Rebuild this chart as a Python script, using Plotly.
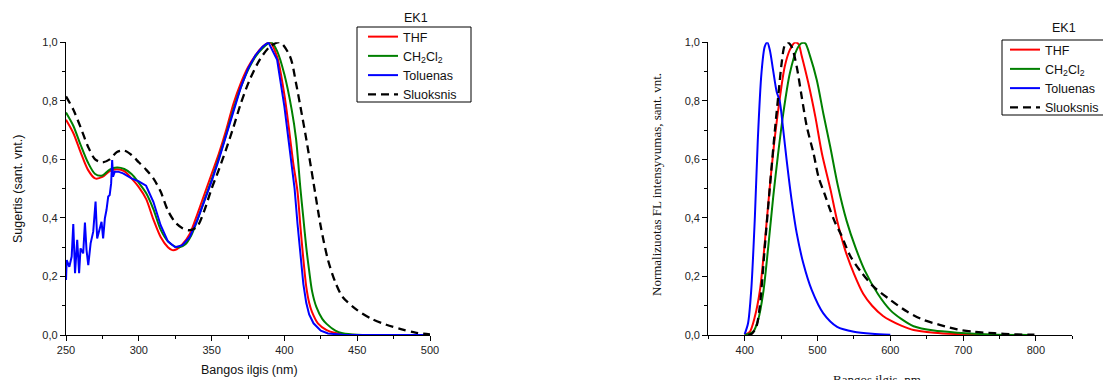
import plotly.graph_objects as go

# ---------------- Absorption (left) ----------------
abs_thf_x = [250,255,260,265,270,275,280,285,290,295,300,305,310,315,320,323,326,330,335,340,345,350,355,360,365,370,375,380,385,390,395,400,403,406,409,411,413,415,417,419,423,429,435,440,450,500]
abs_thf_y = [0.735,0.69,0.625,0.565,0.535,0.54,0.56,0.566,0.56,0.535,0.505,0.465,0.395,0.335,0.30,0.29,0.293,0.31,0.345,0.41,0.48,0.55,0.62,0.70,0.79,0.86,0.915,0.955,0.985,1.0,0.95,0.82,0.71,0.59,0.49,0.37,0.26,0.165,0.11,0.078,0.04,0.017,0.007,0.003,0.0,0.0]

abs_ch_x = [250,255,260,265,270,275,280,285,290,295,300,305,310,315,320,325,328,332,336,340,345,350,355,360,365,370,375,380,385,391,395,400,405,408,411,413,415,417,419,422,426,429,435,440,450,500]
abs_ch_y = [0.76,0.715,0.65,0.59,0.55,0.545,0.565,0.572,0.567,0.55,0.52,0.485,0.43,0.36,0.32,0.302,0.30,0.31,0.34,0.39,0.46,0.53,0.605,0.685,0.77,0.845,0.905,0.95,0.98,1.0,0.97,0.89,0.77,0.67,0.50,0.40,0.30,0.22,0.15,0.095,0.055,0.038,0.015,0.006,0.001,0.0]

abs_tol_x = [250,250.5,252.3,253.9,255,256.2,257.7,259,260,261.8,263,264.1,265.3,266.9,268.7,270.3,271.4,272.8,274.4,275.5,276.7,277.8,279,280,281,281.7,282.3,283.5,285.8,289.2,295,300,305,310,315,320,325,330,335,340,345,350,355,360,365,370,375,380,385,389,395,400,403,405,407,409,411,413,415,417,420,425,430,440,500]
abs_tol_y = [0.188,0.256,0.233,0.268,0.379,0.211,0.325,0.211,0.296,0.279,0.384,0.290,0.239,0.313,0.353,0.456,0.330,0.353,0.387,0.330,0.399,0.427,0.473,0.478,0.518,0.598,0.541,0.558,0.558,0.552,0.535,0.525,0.51,0.455,0.375,0.32,0.30,0.307,0.335,0.39,0.455,0.525,0.60,0.68,0.765,0.845,0.91,0.955,0.985,1.0,0.94,0.78,0.66,0.57,0.50,0.38,0.27,0.175,0.11,0.07,0.04,0.015,0.005,0.001,0.0]

abs_film_x = [250,255,260,265,270,275,280,285,290,295,300,305,310,315,320,325,330,335,340,345,350,355,360,365,370,376,383,390,397,404,408,411,415,420,425,430,435,440,450,460,470,480,490,500]
abs_film_y = [0.815,0.77,0.71,0.645,0.60,0.59,0.60,0.625,0.63,0.615,0.59,0.565,0.535,0.49,0.425,0.385,0.365,0.358,0.37,0.425,0.50,0.565,0.635,0.71,0.79,0.87,0.94,0.985,1.0,0.95,0.86,0.78,0.67,0.52,0.37,0.255,0.18,0.13,0.085,0.055,0.035,0.02,0.008,0.002]

# ---------------- Fluorescence (right) ----------------
fl_thf_x = [400,407,414,421,427.5,434.5,441.5,448.5,455,462,469,474,478,487.5,497,506,518,527,538,550,563,575,590,600,615,632,660,692,720,780]
fl_thf_y = [0.0,0.011,0.063,0.154,0.313,0.507,0.678,0.814,0.917,0.974,0.999,0.994,0.957,0.86,0.746,0.621,0.495,0.39,0.29,0.21,0.14,0.10,0.065,0.05,0.032,0.017,0.008,0.003,0.001,0.0]

fl_ch_x = [400,411.5,418.4,425.3,432.3,439.2,446,453,462,471.4,478,483,490,499,508,517.5,528,540,552,565,583,600,615,632,660,692,738,790]
fl_ch_y = [0.0,0.011,0.051,0.142,0.30,0.473,0.621,0.757,0.894,0.974,0.997,0.997,0.951,0.871,0.757,0.643,0.51,0.39,0.30,0.22,0.14,0.085,0.055,0.03,0.015,0.008,0.002,0.0]

fl_tol_x = [400,404.6,409,414,418,423,427.5,431,434.5,439,444,448,453,457.5,464.5,471.5,480.5,492,508,527,550,575,600]
fl_tol_y = [0.003,0.04,0.154,0.404,0.666,0.894,0.985,1.0,0.974,0.905,0.83,0.80,0.70,0.60,0.46,0.347,0.245,0.154,0.074,0.028,0.011,0.004,0.001]

fl_film_x = [405,410,416,420.7,427.6,434.6,441.5,446,450.7,454.4,458.5,464.5,471.4,478.3,485.3,494.5,501.4,510,517,524,532,545,560,577,600,623,646,669,692,715,743,770,798]
fl_film_y = [0.0,0.005,0.028,0.097,0.30,0.507,0.70,0.814,0.928,0.985,1.0,0.985,0.917,0.814,0.712,0.621,0.54,0.48,0.43,0.385,0.345,0.27,0.215,0.165,0.12,0.08,0.051,0.034,0.019,0.011,0.006,0.002,0.001]

names = ["THF", "CH<sub>2</sub>Cl<sub>2</sub>", "Toluenas", "Sluoksnis"]
colors = ["#FF0000", "#008000", "#0000FF", "#000000"]

y_ticks = [0, 0.2, 0.4, 0.6, 0.8, 1.0]
y_ticktext = ["0,0", "0,2", "0,4", "0,6", "0,8", "1,0"]
y_minor = [0.1, 0.3, 0.5, 0.7, 0.9]
x1_ticks = [250, 300, 350, 400, 450, 500]
x1_minor = [275, 325, 375, 425, 475]
x2_ticks = [400, 500, 600, 700, 800]
x2_minor = [350, 450, 550, 650, 750, 850]

W, H = 1103, 380
fig = go.Figure()

left_sets = [(abs_thf_x, abs_thf_y), (abs_ch_x, abs_ch_y), (abs_tol_x, abs_tol_y), (abs_film_x, abs_film_y)]
right_sets = [(fl_thf_x, fl_thf_y), (fl_ch_x, fl_ch_y), (fl_tol_x, fl_tol_y), (fl_film_x, fl_film_y)]

for i, (xs, ys) in enumerate(left_sets):
    dash = "8px,5px" if i == 3 else "solid"
    shape = "linear" if i == 2 else "spline"
    fig.add_trace(go.Scatter(x=xs, y=ys, mode="lines", name=names[i],
                             line=dict(color=colors[i], width=2.3 if i == 3 else 2, dash=dash, shape=shape, smoothing=0.8),
                             xaxis="x", yaxis="y", legend="legend"))
for i, (xs, ys) in enumerate(right_sets):
    dash = "8px,5px" if i == 3 else "solid"
    fig.add_trace(go.Scatter(x=xs, y=ys, mode="lines", name=names[i],
                             line=dict(color=colors[i], width=2.3 if i == 3 else 2, dash=dash, shape="spline", smoothing=0.8),
                             xaxis="x2", yaxis="y2", legend="legend2"))

ydom = [(H - 335) / H, (H - 42.3) / H]
axis_common = dict(showline=True, linecolor="black", linewidth=1.3, mirror=False,
                   ticks="outside", ticklen=5, tickwidth=1, tickcolor="black",
                   showgrid=False, zeroline=False,
                   tickfont=dict(family="Liberation Sans, Arial", size=11, color="#222"))

legfont = dict(family="Liberation Sans, Arial", size=12.5, color="#111")

fig.update_layout(
    width=W, height=H,
    margin=dict(l=0, r=0, t=0, b=0, autoexpand=False),
    paper_bgcolor="white", plot_bgcolor="white",
    xaxis=dict(domain=[66 / W, 430 / W], range=[250, 500], tickvals=x1_ticks, ticktext=[str(v) for v in x1_ticks],
               minor=dict(tickvals=x1_minor, ticklen=3, tickcolor="black", ticks="outside"), anchor="y", **axis_common),
    yaxis=dict(domain=ydom, range=[0, 1.0], tickvals=y_ticks, ticktext=y_ticktext,
               minor=dict(tickvals=y_minor, ticklen=3, tickcolor="black", ticks="outside"), anchor="x", **axis_common),
    xaxis2=dict(domain=[708.3 / W, 1072.3 / W], range=[350, 850], tickvals=x2_ticks, ticktext=[str(v) for v in x2_ticks],
                minor=dict(tickvals=x2_minor, ticklen=3, tickcolor="black", ticks="outside"), anchor="y2", **axis_common),
    yaxis2=dict(domain=ydom, range=[0, 1.0], tickvals=y_ticks, ticktext=y_ticktext,
                minor=dict(tickvals=y_minor, ticklen=3, tickcolor="black", ticks="outside"), anchor="x2", **axis_common),
    legend=dict(x=363 / W, y=(H - 22) / H, xanchor="left", yanchor="top", bgcolor="rgba(0,0,0,0)",
                borderwidth=0, font=legfont, tracegroupgap=0, itemwidth=30),
    legend2=dict(x=1005 / W, y=(H - 35) / H, xanchor="left", yanchor="top", bgcolor="rgba(0,0,0,0)",
                 borderwidth=0, font=legfont, tracegroupgap=0, itemwidth=30),
    showlegend=True,
    shapes=[
        dict(type="rect", xref="paper", yref="paper", x0=357 / W, x1=471 / W, y0=(H - 102) / H, y1=(H - 27) / H,
             line=dict(color="black", width=1), fillcolor="white", layer="below"),
        dict(type="rect", xref="paper", yref="paper", x0=1002 / W, x1=1115 / W, y0=(H - 115) / H, y1=(H - 40) / H,
             line=dict(color="black", width=1), fillcolor="white", layer="below"),
    ],
)

annotations = [
    dict(text="EK1", x=415.7 / W, y=(H - 18.3) / H, xref="paper", yref="paper", showarrow=False,
         font=legfont, xanchor="center", yanchor="middle"),
    dict(text="EK1", x=1064 / W, y=(H - 28.3) / H, xref="paper", yref="paper", showarrow=False,
         font=legfont, xanchor="center", yanchor="middle"),
    dict(text="Sugertis (sant. vnt.)", x=18 / W, y=(H - 189) / H, xref="paper", yref="paper", showarrow=False,
         textangle=-90, font=dict(family="Liberation Sans, Arial", size=12.5, color="#111"), xanchor="center", yanchor="middle"),
    dict(text="Bangos ilgis (nm)", x=249 / W, y=(H - 370) / H, xref="paper", yref="paper", showarrow=False,
         font=dict(family="Liberation Sans, Arial", size=12.5, color="#111"), xanchor="center", yanchor="middle"),
    dict(text="Normalizuotas FL intensyvumas, sant. vnt.", x=657 / W, y=(H - 185) / H, xref="paper", yref="paper",
         showarrow=False, textangle=-90, font=dict(family="Liberation Serif, Times New Roman", size=13, color="#111"),
         xanchor="center", yanchor="middle"),
    dict(text="Bangos ilgis, nm", x=877 / W, y=(H - 379) / H, xref="paper", yref="paper", showarrow=False,
         font=dict(family="Liberation Serif, Times New Roman", size=13, color="#111"), xanchor="center", yanchor="middle"),
]
fig.update_layout(annotations=annotations)

fig.write_html("out.html")
